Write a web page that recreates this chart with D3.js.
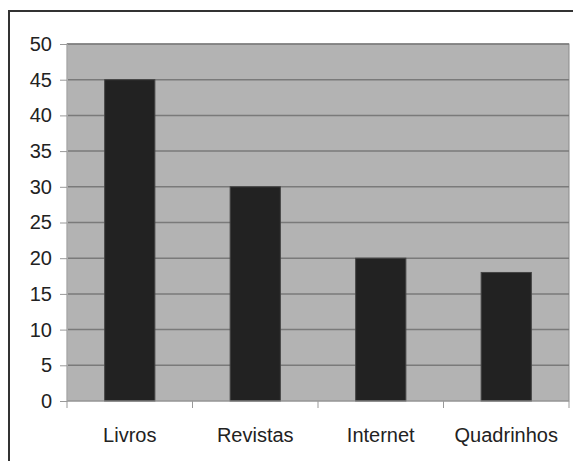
<!DOCTYPE html>
<html>
<head>
<meta charset="utf-8">
<script src="https://cdn.jsdelivr.net/npm/d3@7"></script>
<style>
  body { margin: 0; background: #fff; }
  text { font-family: "Liberation Sans", Arial, sans-serif; fill: #222; }
</style>
</head>
<body>
<svg id="chart" width="573" height="461"></svg>
<script>
// chart data
const categories = ['Livros', 'Revistas', 'Internet', 'Quadrinhos'];
const values = [45, 30, 20, 18];
const yTicks = [0, 5, 10, 15, 20, 25, 30, 35, 40, 45, 50];

const svg = d3.select('#chart');

// outer frame (runs off the right and bottom edges)
svg.append('path')
  .attr('d', 'M9,470 L9,11 L580,11')
  .attr('fill', 'none')
  .attr('stroke', '#333')
  .attr('stroke-width', 2);

const plot = { left: 67, top: 44, right: 569, bottom: 401 };

let x = d3.scaleBand()
  .domain(categories)
  .range([plot.left, plot.right])
  .paddingInner(0.6)
  .paddingOuter(0.3);

let y = d3.scaleLinear()
  .domain([0, 50])
  .range([plot.bottom, plot.top]);

// plot background
svg.append('rect')
  .attr('x', plot.left)
  .attr('y', plot.top)
  .attr('width', plot.right - plot.left)
  .attr('height', plot.bottom - plot.top)
  .attr('fill', '#b3b3b3')
  .attr('stroke', '#8a8a8a')
  .attr('stroke-width', 1);

// gridlines
svg.append('g')
  .selectAll('line')
  .data(yTicks.filter(d => d > 0))
  .join('line')
  .attr('x1', plot.left)
  .attr('x2', plot.right)
  .attr('y1', d => y(d))
  .attr('y2', d => y(d))
  .attr('stroke', '#7a7a7a')
  .attr('stroke-width', 1.5);

// bars
svg.append('g')
  .selectAll('rect')
  .data(values)
  .join('rect')
  .attr('x', (d, i) => x(categories[i]))
  .attr('y', d => y(d))
  .attr('width', x.bandwidth())
  .attr('height', d => y(0) - y(d))
  .attr('fill', '#222')
  .attr('stroke', '#444')
  .attr('stroke-width', 1);

// y axis
let yAxis = svg.append('g')
  .attr('transform', `translate(${plot.left},0)`)
  .call(d3.axisLeft(y).tickValues(yTicks).tickSize(7).tickPadding(8));
yAxis.select('.domain').attr('stroke', '#aaa');
yAxis.selectAll('.tick line').attr('stroke', '#999');
yAxis.selectAll('text')
  .style('font-size', '20px')
  .attr('fill', '#222');

// x axis: ticks at the band boundaries
let bounds = categories.map(c => x(c) - x.step() * x.paddingInner() / 2 - x.step() * 0.0);
let xAxisG = svg.append('g');
xAxisG.append('line')
  .attr('x1', plot.left).attr('x2', plot.right)
  .attr('y1', plot.bottom).attr('y2', plot.bottom)
  .attr('stroke', '#999');
xAxisG.selectAll('line.tk')
  .data(d3.range(categories.length + 1))
  .join('line')
  .classed('tk', true)
  .attr('x1', i => plot.left + i * x.step())
  .attr('x2', i => plot.left + i * x.step())
  .attr('y1', plot.bottom)
  .attr('y2', plot.bottom + 7)
  .attr('stroke', '#999');

xAxisG.selectAll('text')
  .data(categories)
  .join('text')
  .attr('x', d => x(d) + x.bandwidth() / 2)
  .attr('y', 442)
  .attr('text-anchor', 'middle')
  .style('font-size', '20px')
  .text(d => d);
</script>
</body>
</html>
